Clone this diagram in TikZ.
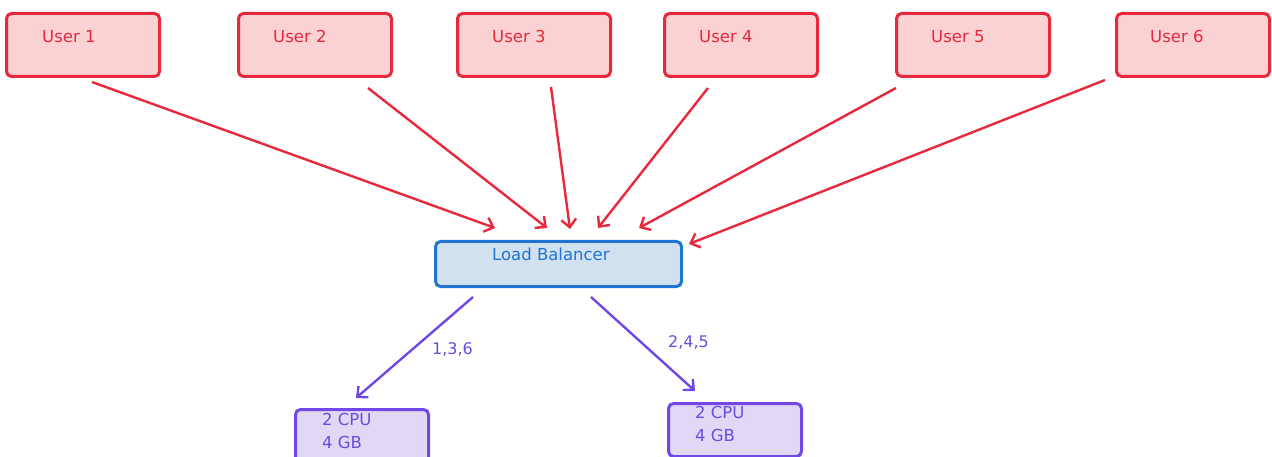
\documentclass[tikz,border=0pt]{standalone}
\usepackage{fontspec}
\setmainfont{DejaVu Sans}
\usetikzlibrary{arrows.meta}
\definecolor{ured}{HTML}{E8283C}
\definecolor{ufill}{HTML}{FAD2D3}
\definecolor{lbblue}{HTML}{1F75CF}
\definecolor{lbfill}{HTML}{D2E1EF}
\definecolor{pur}{HTML}{7048E8}
\definecolor{purtxt}{HTML}{6A4CE0}
\definecolor{purfill}{HTML}{E1D8F5}
\tikzset{
  userbox/.style={draw=ured, fill=ufill, line width=3pt, rounded corners=5pt, minimum width=153pt, minimum height=63pt, anchor=north west, inner sep=0pt},
  usertxt/.style={text=ured, font=\fontsize{16.5}{19}\selectfont, anchor=base west, inner sep=0pt},
  lbbox/.style={draw=lbblue, fill=lbfill, line width=3pt, rounded corners=5pt, minimum width=246pt, minimum height=45pt, anchor=north west, inner sep=0pt},
  lbtxt/.style={text=lbblue, font=\fontsize{16.5}{19}\selectfont, anchor=base west, inner sep=0pt},
  srvbox/.style={draw=pur, fill=purfill, line width=3pt, rounded corners=5pt, minimum width=133pt, anchor=north west, inner sep=0pt},
  srvtxt/.style={text=purtxt, font=\fontsize{16.5}{19}\selectfont, anchor=base west, inner sep=0pt},
  lbl/.style={text=purtxt, font=\fontsize{16}{19}\selectfont, anchor=base west, inner sep=0pt},
  redarrow/.style={draw=ured, line width=2.4pt, -{Straight Barb[length=8pt,width=15pt,line width=2.4pt]}},
  purarrow/.style={draw=pur, line width=2.4pt, -{Straight Barb[length=8pt,width=15pt,line width=2.4pt]}},
}
\begin{document}
\begin{tikzpicture}[x=1pt,y=-1pt]
\useasboundingbox (0,0) rectangle (1272,457);
% user boxes
\node[userbox] (u1) at (5,12) {};
\node[userbox] (u2) at (237,12) {};
\node[userbox] (u3) at (456,12) {};
\node[userbox] (u4) at (663,12) {};
\node[userbox] (u5) at (895,12) {};
\node[userbox] (u6) at (1115,12) {};
\node[usertxt] (t1) at (42,43) {User 1};
\node[usertxt] (t2) at (273,43) {User 2};
\node[usertxt] (t3) at (492,43) {User 3};
\node[usertxt] (t4) at (699,43) {User 4};
\node[usertxt] (t5) at (931,43) {User 5};
\node[usertxt] (t6) at (1150,43) {User 6};
% load balancer
\node[lbbox] (lb) at (434,240) {};
\node[lbtxt] (lbt) at (492,261) {Load Balancer};
% servers
\node[srvbox, minimum height=72pt] (s1) at (294,408) {};
\node[srvbox, minimum height=53pt] (s2) at (667,402) {};
\node[srvtxt] (s1a) at (322,425) {2 CPU};
\node[srvtxt] (s1b) at (322,448) {4 GB};
\node[srvtxt] (s2a) at (695,418) {2 CPU};
\node[srvtxt] (s2b) at (695,441) {4 GB};
% user arrows
\draw[redarrow] ([xshift=87pt,yshift=-4pt]u1.south west) -- ([xshift=61pt,yshift=12pt]lb.north west);
\draw[redarrow] ([xshift=131pt,yshift=-10pt]u2.south west) -- ([xshift=113pt,yshift=12pt]lb.north west);
\draw[redarrow] ([xshift=95pt,yshift=-9pt]u3.south west) -- ([xshift=136pt,yshift=11pt]lb.north west);
\draw[redarrow] ([xshift=45pt,yshift=-10pt]u4.south west) -- ([xshift=164pt,yshift=12pt]lb.north west);
\draw[redarrow] ([xshift=1pt,yshift=-10pt]u5.south west) -- ([xshift=205pt,yshift=12pt]lb.north west);
\draw[redarrow] ([xshift=-10pt,yshift=-2pt]u6.south west) -- ([xshift=255pt,yshift=-4pt]lb.north west);
% server arrows
\draw[purarrow] ([xshift=39pt,yshift=-9pt]lb.south west) -- ([xshift=62pt,yshift=10pt]s1.north west);
\draw[purarrow] ([xshift=157pt,yshift=-9pt]lb.south west) -- ([xshift=28pt,yshift=11pt]s2.north west);
\node[lbl] (l1) at (432,354) {1,3,6};
\node[lbl] (l2) at (668,347) {2,4,5};
\end{tikzpicture}
\end{document}
